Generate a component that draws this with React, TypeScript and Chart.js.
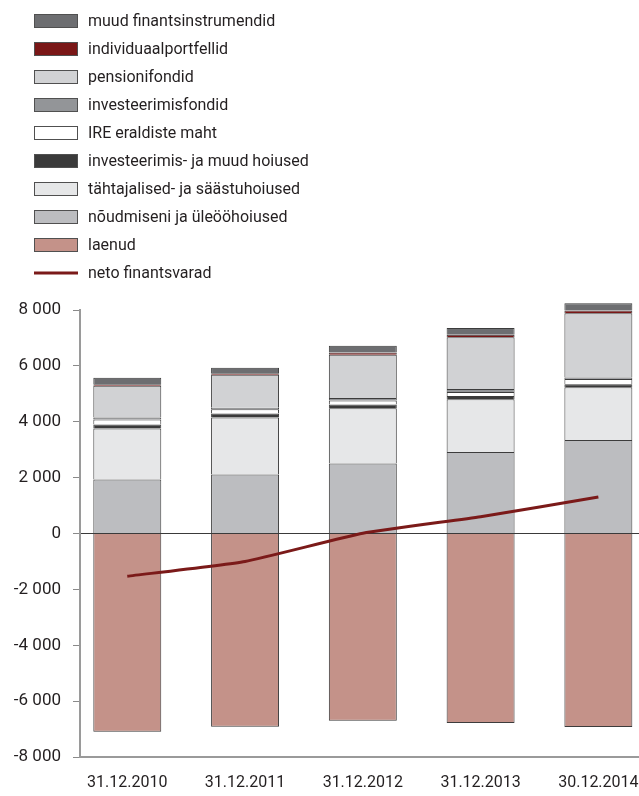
import React, { useEffect, useRef } from 'react';
import { Chart, registerables } from 'chart.js';

Chart.register(...registerables);

const categories = ['31.12.2010', '31.12.2011', '31.12.2012', '31.12.2013', '30.12.2014'];
const noudmiseni = [1934, 2113, 2507, 2913, 3343];
const tahtajalised = [1827, 2040, 1980, 1890, 1890];
const invHoiused = [140, 145, 130, 120, 110];
const ireEraldised = [180, 145, 145, 145, 190];
const invFondid = [70, 60, 85, 105, 50];
const pensionifondid = [1135, 1180, 1550, 1850, 2300];
const individuaal = [60, 50, 85, 95, 95];
const muudInstr = [230, 200, 240, 240, 260];
const laenud = [-7100, -6920, -6700, -6780, -6930];
const netoFinantsvarad = [-1530, -1000, 10, 600, 1310];

const FONT = "Roboto, 'Liberation Sans', sans-serif";
const TEXT = '#231f20';
const EDGE = '#3c3c3c';

const pts = (arr: number[]) => arr.map((y, i) => ({ x: i, y }));

const fmt = (v: number) => {
  const s = String(Math.abs(v)).replace(/\B(?=(\d{3})+(?!\d))/g, ' ');
  return v < 0 ? '-' + s : s;
};

const barDs = (label: string, data: number[], color: string) => ({
  type: 'bar' as const,
  label,
  data: pts(data),
  backgroundColor: color,
  borderColor: EDGE,
  borderWidth: 1,
  stack: 'bars',
  categoryPercentage: 1,
  barPercentage: 0.577,
  clip: false,
});

const legendPlugin = {
  id: 'stackLegend',
  afterDraw(chart: any) {
    const ds = chart.data.datasets;
    const byLabel = (l: string) => ds.find((d: any) => d.label === l);
    const order = [
      'muud finantsinstrumendid',
      'individuaalportfellid',
      'pensionifondid',
      'investeerimisfondid',
      'IRE eraldiste maht',
      'investeerimis- ja muud hoiused',
      'tähtajalised- ja säästuhoiused',
      'nõudmiseni ja üleööhoiused',
      'laenud',
      'neto finantsvarad',
    ];
    const ctx = chart.ctx;
    ctx.save();
    ctx.font = `16px ${FONT}`;
    ctx.textBaseline = 'middle';
    ctx.textAlign = 'left';
    order.forEach((label, i) => {
      const d = byLabel(label);
      const y = 21 + i * 28;
      if (d.type === 'line') {
        ctx.strokeStyle = d.borderColor;
        ctx.lineWidth = 3;
        ctx.beginPath();
        ctx.moveTo(34, y);
        ctx.lineTo(78, y);
        ctx.stroke();
      } else {
        ctx.fillStyle = d.backgroundColor;
        ctx.fillRect(34.5, y - 6.5, 43, 13);
        ctx.strokeStyle = '#505050';
        ctx.lineWidth = 1;
        ctx.strokeRect(34.5, y - 6.5, 43, 13);
      }
      ctx.fillStyle = TEXT;
      ctx.fillText(label, 88, y + 1);
    });
    ctx.restore();
  },
};

export default function App() {
  const ref = useRef<HTMLCanvasElement | null>(null);

  useEffect(() => {
    if (!ref.current) return;
    const chart = new Chart(ref.current, {
      type: 'bar',
      data: {
        datasets: [
          {
            type: 'line',
            label: 'neto finantsvarad',
            data: pts(netoFinantsvarad),
            borderColor: '#7b1a19',
            backgroundColor: '#7b1a19',
            borderWidth: 3,
            pointRadius: 0,
            tension: 0.15,
            stack: 'line',
            clip: false,
          } as any,
          barDs('nõudmiseni ja üleööhoiused', noudmiseni, '#bcbdc0'),
          barDs('tähtajalised- ja säästuhoiused', tahtajalised, '#e6e7e8'),
          barDs('investeerimis- ja muud hoiused', invHoiused, '#3a3a3a'),
          barDs('IRE eraldiste maht', ireEraldised, '#ffffff'),
          barDs('investeerimisfondid', invFondid, '#939598'),
          barDs('pensionifondid', pensionifondid, '#d1d2d4'),
          barDs('individuaalportfellid', individuaal, '#7a1717'),
          barDs('muud finantsinstrumendid', muudInstr, '#6d6e71'),
          barDs('laenud', laenud, '#c49289'),
        ],
      },
      options: {
        responsive: false,
        animation: false,
        layout: { padding: { top: 310, left: 0, right: 0, bottom: 0 } },
        plugins: {
          legend: { display: false },
          tooltip: { enabled: false },
        },
        scales: {
          x: {
            type: 'linear',
            stacked: true,
            offset: false,
            min: -0.4015,
            max: 4.345,
            afterBuildTicks: (scale: any) => {
              scale.ticks = categories.map((_, i) => ({ value: i }));
            },
            afterFit: (scale: any) => {
              scale.height = 39;
            },
            grid: { display: false, offset: false, drawTicks: true, tickLength: 16 },
            border: { display: true, color: '#9a9a9a', width: 2 },
            ticks: {
              padding: 0,
              autoSkip: false,
              maxRotation: 0,
              color: TEXT,
              font: { family: FONT, size: 16 },
              callback: (v: any) => categories[v] ?? '',
            },
          },
          y: {
            stacked: true,
            min: -8000,
            max: 8000,
            afterFit: (scale: any) => {
              scale.width = 80;
            },
            grid: {
              drawOnChartArea: true,
              drawTicks: true,
              tickLength: 7,
              tickColor: '#8a8a8a',
              lineWidth: 1,
              color: (c: any) => (c.tick && c.tick.value === 0 ? '#3a3a3a' : 'rgba(0,0,0,0)'),
            },
            border: { display: true, color: '#9a9a9a', width: 2 },
            ticks: {
              stepSize: 2000,
              padding: 12,
              color: TEXT,
              font: { family: FONT, size: 17 },
              callback: (v: any) => fmt(Number(v)),
            },
          },
        },
      } as any,
      plugins: [legendPlugin],
    });
    return () => chart.destroy();
  }, []);

  return (
    <div style={{ position: 'absolute', left: 0, top: 0, width: 639, height: 796 }}>
      <canvas ref={ref} width={639} height={796} />
    </div>
  );
}
